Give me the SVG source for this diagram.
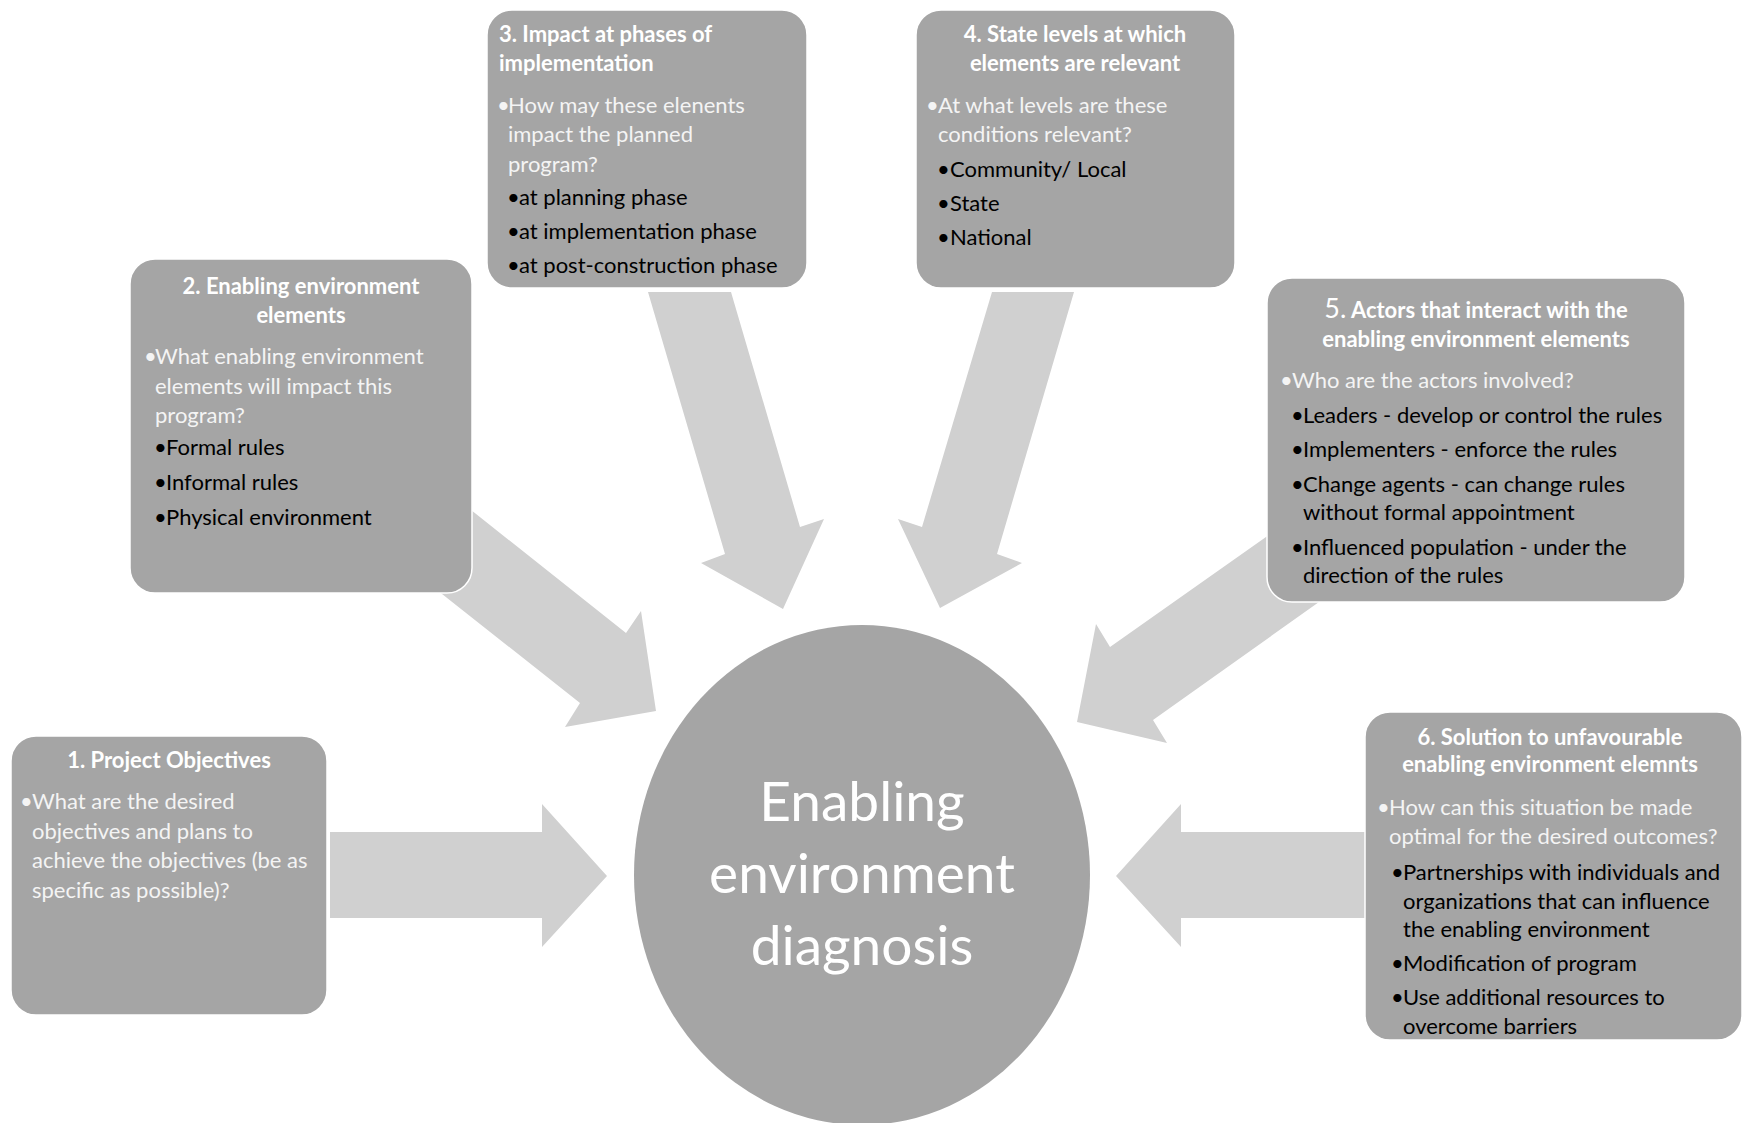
<svg xmlns="http://www.w3.org/2000/svg" width="1743" height="1123" viewBox="0 0 1743 1123">
  <style>
    .box { fill: #a5a5a5; stroke: #ffffff; stroke-width: 1.5; }
    .arrow { fill: #d0d0d0; }
    .hd { font-family: Lato, "Open Sans", sans-serif; font-weight: bold; font-size: 22px; fill: #ffffff; }
    .l1 { font-family: Lato, "Open Sans", sans-serif; font-size: 22px; fill: #f4f4f4; }
    .l2 { font-family: Lato, "Open Sans", sans-serif; font-size: 22px; fill: #000000; }
    .core { font-family: Lato, "Open Sans", sans-serif; font-size: 55px; fill: #ffffff; }
    .mid { text-anchor: middle; }
  </style>
  <rect width="1743" height="1123" fill="#ffffff"/>

  <!-- block arrows pointing at the central diagnosis -->
  <g id="connectors">
    <polygon class="arrow" points="330,832 542,832 542,804 607,876 542,947 542,918 330,918"/>
    <polygon class="arrow" points="427,475 626,633 641,611 656,711 565,727 580,703 375,541"/>
    <polygon class="arrow" points="648,292 731,292 800,527 824,519 783,609 701,563 725,554"/>
    <polygon class="arrow" points="992,292 1074,292 997,554 1022,563 940,608 898,519 922,527"/>
    <polygon class="arrow" points="1330,492 1110,647 1096,624 1077,722 1167,743 1153,720 1350,580"/>
    <polygon class="arrow" points="1380,832 1181,832 1181,804 1116,876 1181,947 1181,918 1380,918"/>
  </g>

  <g id="core">
    <ellipse cx="862" cy="875" rx="228" ry="250" fill="#a5a5a5"/>
    <text class="core mid" x="862" y="821">Enabling</text>
    <text class="core mid" x="862" y="893">environment</text>
    <text class="core mid" x="862" y="965">diagnosis</text>
  </g>

  <g id="node1">
    <rect class="box" x="11" y="736" width="316" height="279" rx="25"/>
    <text class="hd mid" x="169" y="768">1. Project Objectives</text>
    <text class="l1" y="809"><tspan x="20">•</tspan><tspan x="32">What are the desired</tspan></text>
    <text class="l1" x="32" y="838.5">objectives and plans to</text>
    <text class="l1" x="32" y="868">achieve the objectives (be as</text>
    <text class="l1" x="32" y="897.5">specific as possible)?</text>
  </g>

  <g id="node2">
    <rect class="box" x="130" y="259" width="342" height="334" rx="25"/>
    <text class="hd mid" x="301" y="294">2. Enabling environment</text>
    <text class="hd mid" x="301" y="323">elements</text>
    <text class="l1" y="364"><tspan x="144">•</tspan><tspan x="155">What enabling environment</tspan></text>
    <text class="l1" x="155" y="393.5">elements will impact this</text>
    <text class="l1" x="155" y="423">program?</text>
    <text class="l2" y="455"><tspan x="154">•</tspan><tspan x="166">Formal rules</tspan></text>
    <text class="l2" y="490"><tspan x="154">•</tspan><tspan x="166">Informal rules</tspan></text>
    <text class="l2" y="525"><tspan x="154">•</tspan><tspan x="166">Physical environment</tspan></text>
  </g>

  <g id="node3">
    <rect class="box" x="487" y="10" width="320" height="278" rx="25"/>
    <text class="hd" x="499" y="42">3. Impact at phases of</text>
    <text class="hd" x="499" y="71">implementation</text>
    <text class="l1" y="112.5"><tspan x="497">•</tspan><tspan x="508">How may these elenents</tspan></text>
    <text class="l1" x="508" y="142">impact the planned</text>
    <text class="l1" x="508" y="171.5">program?</text>
    <text class="l2" y="205"><tspan x="507">•</tspan><tspan x="519">at planning phase</tspan></text>
    <text class="l2" y="239"><tspan x="507">•</tspan><tspan x="519">at implementation phase</tspan></text>
    <text class="l2" y="273"><tspan x="507">•</tspan><tspan x="519">at post-construction phase</tspan></text>
  </g>

  <g id="node4">
    <rect class="box" x="916" y="10" width="319" height="278" rx="25"/>
    <text class="hd mid" x="1075" y="42">4. State levels at which</text>
    <text class="hd mid" x="1075" y="71">elements are relevant</text>
    <text class="l1" y="112.5"><tspan x="926">•</tspan><tspan x="938">At what levels are these</tspan></text>
    <text class="l1" x="938" y="142">conditions relevant?</text>
    <text class="l2" y="177"><tspan x="937">•</tspan><tspan x="950">Community/ Local</tspan></text>
    <text class="l2" y="211"><tspan x="937">•</tspan><tspan x="950">State</tspan></text>
    <text class="l2" y="245"><tspan x="937">•</tspan><tspan x="950">National</tspan></text>
  </g>

  <g id="node5">
    <rect class="box" x="1267" y="278" width="418" height="324" rx="25"/>
    <text class="hd mid" x="1476" y="318"><tspan font-weight="normal" font-size="27">5.</tspan> Actors that interact with the</text>
    <text class="hd mid" x="1476" y="347">enabling environment elements</text>
    <text class="l1" y="388"><tspan x="1280">•</tspan><tspan x="1292">Who are the actors involved?</tspan></text>
    <text class="l2" y="423"><tspan x="1291">•</tspan><tspan x="1303">Leaders - develop or control the rules</tspan></text>
    <text class="l2" y="457"><tspan x="1291">•</tspan><tspan x="1303">Implementers - enforce the rules</tspan></text>
    <text class="l2" y="492"><tspan x="1291">•</tspan><tspan x="1303">Change agents - can change rules</tspan></text>
    <text class="l2" x="1303" y="520">without formal appointment</text>
    <text class="l2" y="555"><tspan x="1291">•</tspan><tspan x="1303">Influenced population - under the</tspan></text>
    <text class="l2" x="1303" y="583">direction of the rules</text>
  </g>

  <g id="node6">
    <rect class="box" x="1365" y="712" width="377" height="328" rx="25"/>
    <text class="hd mid" x="1550" y="745">6. Solution to unfavourable</text>
    <text class="hd mid" x="1550" y="772">enabling environment elemnts</text>
    <text class="l1" y="815"><tspan x="1377">•</tspan><tspan x="1389">How can this situation be made</tspan></text>
    <text class="l1" x="1389" y="843.5">optimal for the desired outcomes?</text>
    <text class="l2" y="880"><tspan x="1391">•</tspan><tspan x="1403">Partnerships with individuals and</tspan></text>
    <text class="l2" x="1403" y="908.5">organizations that can influence</text>
    <text class="l2" x="1403" y="937">the enabling environment</text>
    <text class="l2" y="971"><tspan x="1391">•</tspan><tspan x="1403">Modification of program</tspan></text>
    <text class="l2" y="1005"><tspan x="1391">•</tspan><tspan x="1403">Use additional resources to</tspan></text>
    <text class="l2" x="1403" y="1034">overcome barriers</text>
  </g>
</svg>
